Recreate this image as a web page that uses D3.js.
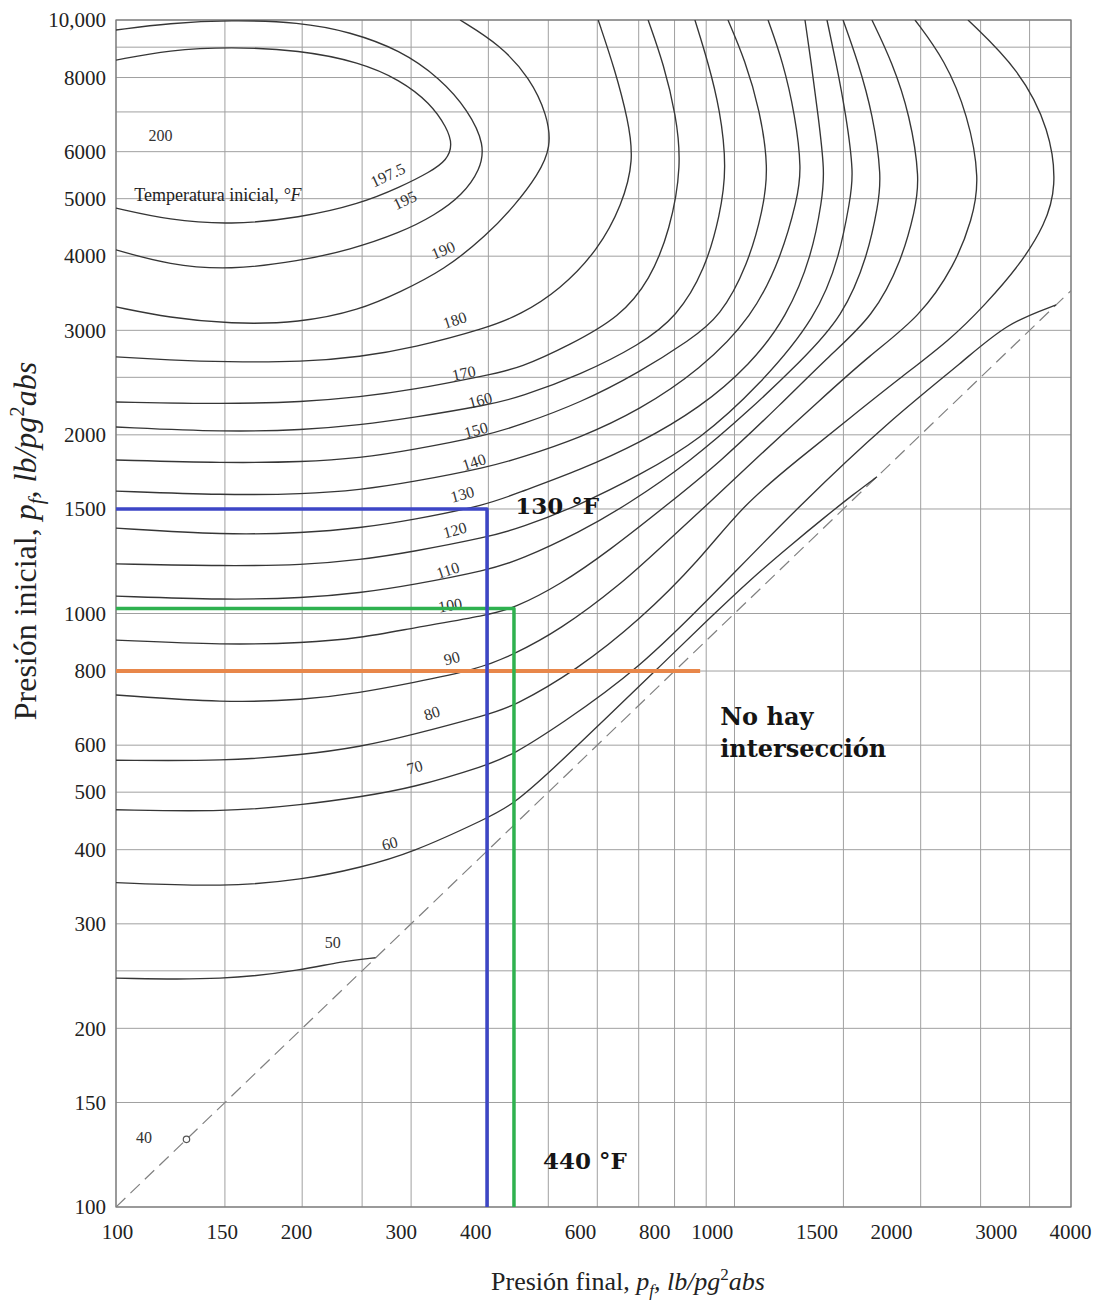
<!DOCTYPE html>
<html>
<head>
<meta charset="utf-8">
<script src="https://cdn.jsdelivr.net/npm/d3@7"></script>
<style>
  body { margin: 0; background: #fff; }
  svg { display: block; }
</style>
</head>
<body>
<svg id="chart" width="1105" height="1304"></svg>
<script>
// pressures in lb/pg2 abs : [final pressure pf, initial pressure pi]

// grid and tick values
var xGrid = [100, 150, 200, 250, 300, 400, 500, 600, 700, 800, 900, 1000, 1500, 2000, 2500, 3000, 3500];
var yGrid = [100, 150, 200, 250, 300, 400, 500, 600, 800, 1000, 1500, 2000, 2500, 3000, 4000, 5000, 6000, 7000, 8000, 9000, 10000];
var xTicks = [100, 150, 200, 300, 400, 600, 800, 1000, 1500, 2000, 3000, 4000];
var yTicks = [100, 150, 200, 300, 400, 500, 600, 800, 1000, 1500, 2000, 3000, 4000, 5000, 6000, 8000, 10000];

// initial temperature curves, degF
var t1975 = [[100,8560],[122,8900],[153,9010],[198,8900],[248,8490],[288,7925],[322,7250],[343,6580],[350,6160],[343,5810],[322,5545],[288,5230],[248,4900],[198,4640],[153,4515],[122,4600],[100,4820]];
var t195 = [[100,9620],[122,9880],[153,10000],[198,9920],[239,9550],[288,8900],[334,7985],[371,7050],[395,6160],[388,5590],[363,5070],[328,4690],[288,4380],[239,4100],[198,3925],[153,3790],[122,3865],[100,4100]];
var t190 = [[100,3285],[122,3150],[153,3075],[198,3087],[248,3246],[288,3481],[339,3790],[397,4330],[442,4880],[481,5480],[506,6110],[498,6920],[467,7985],[418,9080],[360,10000]];
var t180 = [[100,2706],[122,2674],[150,2653],[201,2653],[248,2706],[302,2802],[398,3027],[450,3185],[522,3509],[602,4098],[658,4879],[688,5808],[673,6785],[641,8237],[602,10000]];
var t170 = [[100,2272],[150,2254],[201,2272],[248,2316],[301,2380],[400,2523],[450,2592],[542,2835],[653,3160],[730,3647],[787,4428],[822,5697],[804,6918],[769,8400],[725,10000]];
var t160 = [[100,2062],[150,2022],[201,2038],[248,2078],[301,2136],[400,2246],[450,2316],[563,2523],[703,2835],[807,3160],[896,3792],[948,4694],[972,5631],[948,7053],[906,8497],[863,10000]];
var t150 = [[100,1814],[150,1793],[201,1800],[248,1828],[301,1886],[400,1999],[450,2078],[563,2263],[703,2552],[847,2890],[948,3160],[1051,3866],[1112,4786],[1136,5631],[1099,7053],[1040,8560],[976,10000]];
var t140 = [[100,1608],[150,1583],[201,1589],[248,1615],[301,1665],[400,1765],[450,1828],[563,1976],[703,2203],[879,2572],[1071,3160],[1193,4018],[1262,4974],[1285,5588],[1253,6918],[1198,8497],[1133,10000]];
var t130 = [[100,1393],[150,1356],[201,1367],[248,1393],[301,1437],[398,1524],[450,1602],[563,1745],[703,1938],[879,2220],[1059,2622],[1216,3160],[1335,4018],[1385,4974],[1400,5545],[1365,6918],[1330,8497],[1300,10000]];
var t120 = [[100,1212],[150,1202],[201,1207],[248,1231],[301,1270],[400,1346],[450,1393],[563,1524],[703,1711],[879,1960],[1099,2427],[1360,3160],[1481,4018],[1537,4974],[1560,5481],[1515,6918],[1459,8497],[1411,10000]];
var t110 = [[100,1070],[150,1054],[201,1062],[248,1083],[301,1117],[400,1184],[450,1231],[563,1372],[670,1524],[847,1800],[1059,2203],[1276,2653],[1498,3160],[1644,4018],[1706,4879],[1730,5418],[1675,6918],[1584,8497],[1498,10000]];
var t100 = [[100,902],[150,885],[201,892],[248,909],[301,945],[400,994],[440,1021],[522,1117],[629,1279],[778,1524],[948,1800],[1185,2246],[1427,2727],[1675,3160],[1866,3941],[1958,4786],[1995,5376],[1922,6918],[1798,8497],[1668,10000]];
var t90 = [[100,729],[150,707],[201,715],[248,735],[301,764],[381,803],[438,851],[522,938],[653,1117],[758,1290],[903,1524],[1099,1850],[1375,2289],[1656,2727],[1995,3160],[2273,3866],[2421,4603],[2495,5376],[2385,6918],[2190,8560],[1958,10000]];
var t80 = [[100,566],[150,564],[201,578],[248,596],[301,624],[398,675],[438,696],[556,803],[703,975],[879,1231],[1032,1524],[1276,1828],[1537,2136],[1852,2494],[2231,2890],[2541,3311],[2894,3866],[3177,4515],[3320,5231],[3237,6525],[2894,8237],[2385,10000]];
var t70 = [[100,467],[150,463],[201,476],[248,491],[301,508],[398,555],[438,578],[522,649],[698,803],[940,1096],[1276,1524],[1784,2118],[2359,2674],[2750,3080],[3311,3311]];
var t60 = [[100,352],[150,346],[201,356],[248,373],[301,395],[398,452],[438,476],[507,545],[611,657],[747,803],[916,987],[1059,1139],[1229,1300],[1401,1455],[1560,1590],[1700,1700]];
var t50 = [[100,243],[150,241],[201,251],[230,259],[263,263]];
var t40 = [130, 130];

// pf = pi line
var diag = [[100,100],[3500,3500]];

// curve labels: text, pf, pi
var labelText = ["200", "197.5", "195", "190", "180", "170", "160", "150", "140", "130", "120", "110", "100", "90", "80", "70", "60", "50", "40"];
var labelPf = [118, 275, 293, 338, 353, 365, 388, 382, 379, 363, 353, 344, 347, 349, 324, 304, 277, 224, 111];
var labelPi = [6400, 5481, 4974, 4098, 3123, 2542, 2289, 2038, 1800, 1589, 1383, 1184, 1033, 841, 680, 551, 410, 279, 131];

// worked example guides
var guideBlue = [[100,1500],[398,1500],[398,100]];
var guideGreen = [[100,1020],[440,1020],[440,100]];
var guideOrange = [[100,800],[880,800]];

var svg = d3.select("#chart");
svg.append("rect").attr("width", 1105).attr("height", 1304).attr("fill", "#fff");

var x = d3.scaleLog().domain([100, 3500]).range([116, 1071]);
var y = d3.scaleLog().domain([100, 10000]).range([1207, 20]);
// printed pf numbers follow a slightly different spacing than the ruled grid
var xLab = d3.scaleLog().domain([100, 4000]).range([117, 1070]);

svg.append("defs").append("clipPath").attr("id", "plot")
  .append("rect")
  .attr("x", x(100)).attr("y", y(10000))
  .attr("width", x(3500) - x(100)).attr("height", y(100) - y(10000));

// grid
var gv = svg.append("g");
gv.selectAll("line").data(xGrid).enter().append("line")
  .attr("x1", function(d) { return x(d); }).attr("x2", function(d) { return x(d); })
  .attr("y1", y(10000)).attr("y2", y(100))
  .attr("stroke", "#a0a0a0").attr("stroke-width", 1);
var gh = svg.append("g");
gh.selectAll("line").data(yGrid).enter().append("line")
  .attr("y1", function(d) { return y(d); }).attr("y2", function(d) { return y(d); })
  .attr("x1", x(100)).attr("x2", x(3500))
  .attr("stroke", "#a0a0a0").attr("stroke-width", 1);

// frame
svg.append("rect")
  .attr("x", x(100)).attr("y", y(10000))
  .attr("width", x(3500) - x(100)).attr("height", y(100) - y(10000))
  .attr("fill", "none").attr("stroke", "#777").attr("stroke-width", 1.2);

var plot = svg.append("g").attr("clip-path", "url(#plot)");

var straight = d3.line().x(function(d) { return x(d[0]); }).y(function(d) { return y(d[1]); });
// read-off points are a bit noisy, so smooth through them
var smooth = d3.line().x(function(d) { return x(d[0]); }).y(function(d) { return y(d[1]); })
  .curve(d3.curveBasis);

plot.append("path").datum(diag)
  .attr("d", straight)
  .attr("fill", "none").attr("stroke", "#808080").attr("stroke-width", 1.2)
  .attr("stroke-dasharray", "13,7");

var curves = [t1975, t195, t190, t180, t170, t160, t150, t140, t130, t120, t110, t100, t90, t80, t70, t60, t50];
plot.selectAll("path.curve").data(curves).enter().append("path")
  .attr("class", "curve")
  .attr("d", smooth)
  .attr("fill", "none").attr("stroke", "#363636").attr("stroke-width", 1.35);

// 40 F point on the pf = pi line
plot.append("circle")
  .attr("cx", x(t40[0])).attr("cy", y(t40[1])).attr("r", 3.2)
  .attr("fill", "#fff").attr("stroke", "#555").attr("stroke-width", 1.2);

// curve labels
var labelAngle = [0, -25, -25, -22, -18, -12, -15, -15, -18, -15, -15, -18, -10, -15, -18, -15, -15, 0, 0];
var gl = svg.append("g");
gl.selectAll("text").data(labelText).enter().append("text")
  .attr("transform", function(d, i) {
    return "translate(" + x(labelPf[i]) + "," + y(labelPi[i]) + ") rotate(" + labelAngle[i] + ")";
  })
  .attr("text-anchor", "middle").attr("dy", "0.35em")
  .attr("font-family", "Liberation Serif, serif").attr("font-size", 16)
  .attr("fill", "#333")
  .text(function(d) { return d; });

var tempTitle = svg.append("text")
  .attr("x", x(107)).attr("y", y(4950))
  .attr("font-family", "Liberation Serif, serif").attr("font-size", 18).attr("fill", "#222");
tempTitle.append("tspan").text("Temperatura  inicial, ");
tempTitle.append("tspan").attr("font-style", "italic").text("°F");

// guides
function guide(data, color, width) {
  svg.append("path").datum(data)
    .attr("d", straight)
    .attr("fill", "none").attr("stroke", color).attr("stroke-width", width)
    .attr("stroke-linejoin", "round");
}
guide(guideOrange, "#e8874a", 4);
guide(guideGreen, "#2fb14f", 3.5);
guide(guideBlue, "#3d46c6", 3.5);

// annotations
var notes = [["130 °F", 442, 1470], ["440 °F", 490, 116], ["No hay", 948, 649], ["intersección", 948, 573]];
svg.append("g").selectAll("text").data(notes).enter().append("text")
  .attr("x", function(d) { return x(d[1]); })
  .attr("y", function(d) { return y(d[2]); })
  .attr("font-family", "DejaVu Serif, serif").attr("font-weight", "bold")
  .attr("font-size", function(d, i) { return i < 2 ? 23 : 24; })
  .attr("fill", "#151515")
  .text(function(d) { return d[0]; });

// axes
var yAxis = d3.axisLeft(y).tickValues(yTicks).tickSize(0).tickPadding(0)
  .tickFormat(function(d) { return d === 10000 ? "10,000" : String(d); });
var gy = svg.append("g").attr("transform", "translate(106,0)").call(yAxis);
gy.select(".domain").remove();
gy.selectAll("text")
  .attr("font-family", "Liberation Serif, serif").attr("font-size", 21).attr("fill", "#222");

var xAxis = d3.axisBottom(xLab).tickValues(xTicks).tickSize(0).tickPadding(0)
  .tickFormat(d3.format("d"));
var gx = svg.append("g").attr("transform", "translate(0,1224)").call(xAxis);
gx.select(".domain").remove();
gx.selectAll("text")
  .attr("font-family", "Liberation Serif, serif").attr("font-size", 21).attr("fill", "#222");

// axis titles
function axisTitle(sel, size, word) {
  sel.attr("font-family", "Liberation Serif, serif").attr("font-size", size)
    .attr("text-anchor", "middle").attr("fill", "#222");
  var sub = Math.round(size * 0.66);
  sel.append("tspan").text("Presión " + word + ", ");
  sel.append("tspan").attr("font-style", "italic").text("p");
  sel.append("tspan").attr("font-style", "italic").attr("font-size", sub).attr("dy", size * 0.22).text("f");
  sel.append("tspan").attr("font-style", "italic").attr("dy", -size * 0.22).text(", lb/pg");
  sel.append("tspan").attr("font-size", sub).attr("dy", -size * 0.38).text("2");
  sel.append("tspan").attr("font-style", "italic").attr("dy", size * 0.38).text("abs");
}
axisTitle(svg.append("text").attr("x", 628).attr("y", 1290), 26, "final");
axisTitle(svg.append("text").attr("transform", "translate(36,541) rotate(-90)"), 32, "inicial");
</script>
</body>
</html>
